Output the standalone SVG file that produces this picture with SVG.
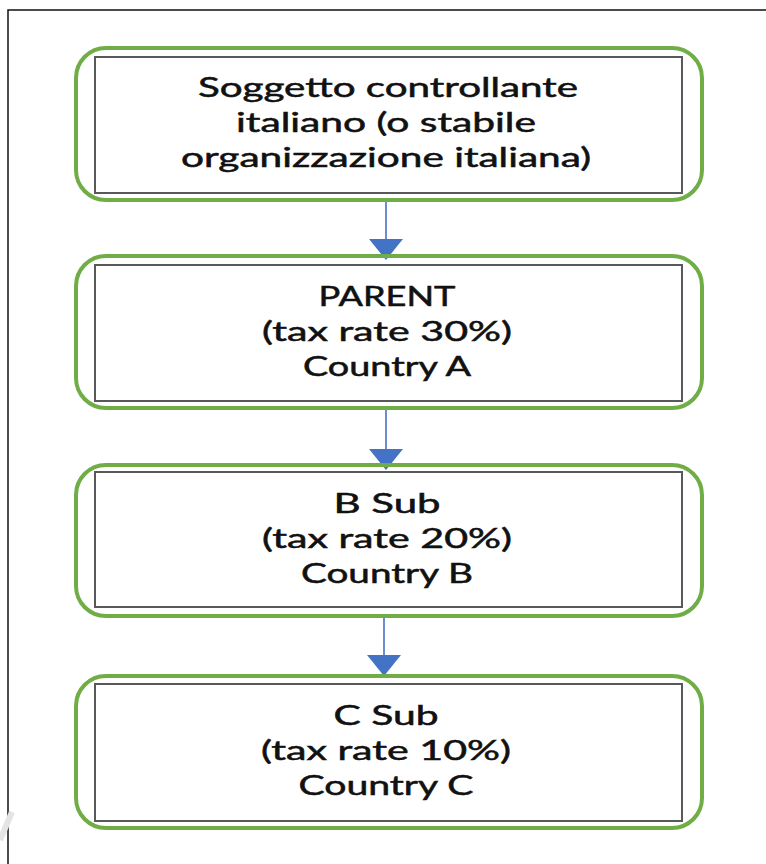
<svg xmlns="http://www.w3.org/2000/svg" width="766" height="864" viewBox="0 0 766 864">
  <style>
    .outline { fill: none; stroke: #70AD47; stroke-width: 4; }
    .box { fill: #FFFFFF; stroke: #595959; stroke-width: 2; }
    .label { font-family: Lato, "Liberation Sans", sans-serif; font-size: 26px; fill: #111111; stroke: #111111; stroke-width: 0.5; text-anchor: middle; }
    .link { stroke: #4472C4; stroke-width: 1.6; fill: none; }
    .head { fill: #4472C4; }
  </style>
  <defs>
    <!-- downward arrowhead, tip at (0,0) -->
    <path id="head-down" class="head" d="M-17,-21 H17 L0,0 z"/>
  </defs>

  <rect width="766" height="864" fill="#FFFFFF"/>
  <!-- page frame -->
  <path d="M8,864 V10 H766" fill="none" stroke="#111111" stroke-width="1.5"/>
  <!-- faint mark at lower left -->
  <path d="M0,840 L12,812" stroke="#E4E4E4" stroke-width="6" fill="none"/>

  <g id="connectors">
    <path class="link" d="M386,200 V240"/>
    <use href="#head-down" x="386" y="260"/>
    <path class="link" d="M386,408 V450"/>
    <use href="#head-down" x="386" y="470"/>
    <path class="link" d="M384,616 V656"/>
    <use href="#head-down" x="384" y="676"/>
  </g>

  <g id="node-soggetto">
    <rect class="outline" x="76" y="48" width="626" height="152" rx="30"/>
    <rect class="box" x="95" y="57" width="587" height="136"/>
    <text class="label" x="388" y="97" textLength="380" lengthAdjust="spacingAndGlyphs">Soggetto controllante</text>
    <text class="label" x="386" y="132" textLength="300" lengthAdjust="spacingAndGlyphs">italiano (o stabile</text>
    <text class="label" x="386" y="167" textLength="410" lengthAdjust="spacingAndGlyphs">organizzazione italiana)</text>
  </g>

  <g id="node-parent">
    <rect class="outline" x="76" y="256" width="626" height="152" rx="30"/>
    <rect class="box" x="95" y="265" width="587" height="136"/>
    <text class="label" x="387" y="306" textLength="137" lengthAdjust="spacingAndGlyphs">PARENT</text>
    <text class="label" x="387" y="341" textLength="250" lengthAdjust="spacingAndGlyphs">(tax rate 30%)</text>
    <text class="label" x="387" y="376" textLength="168" lengthAdjust="spacingAndGlyphs">Country A</text>
  </g>

  <g id="node-bsub">
    <rect class="outline" x="76" y="465" width="626" height="151" rx="30"/>
    <rect class="box" x="95" y="472" width="587" height="135"/>
    <text class="label" x="387" y="513" textLength="107" lengthAdjust="spacingAndGlyphs">B Sub</text>
    <text class="label" x="387" y="548" textLength="250" lengthAdjust="spacingAndGlyphs">(tax rate 20%)</text>
    <text class="label" x="387" y="583" textLength="172" lengthAdjust="spacingAndGlyphs">Country B</text>
  </g>

  <g id="node-csub">
    <rect class="outline" x="76" y="676" width="626" height="152" rx="30"/>
    <rect class="box" x="95" y="684" width="587" height="137"/>
    <text class="label" x="386" y="725" textLength="105" lengthAdjust="spacingAndGlyphs">C Sub</text>
    <text class="label" x="386" y="760" textLength="250" lengthAdjust="spacingAndGlyphs">(tax rate 10%)</text>
    <text class="label" x="386" y="795" textLength="175" lengthAdjust="spacingAndGlyphs">Country C</text>
  </g>
</svg>
